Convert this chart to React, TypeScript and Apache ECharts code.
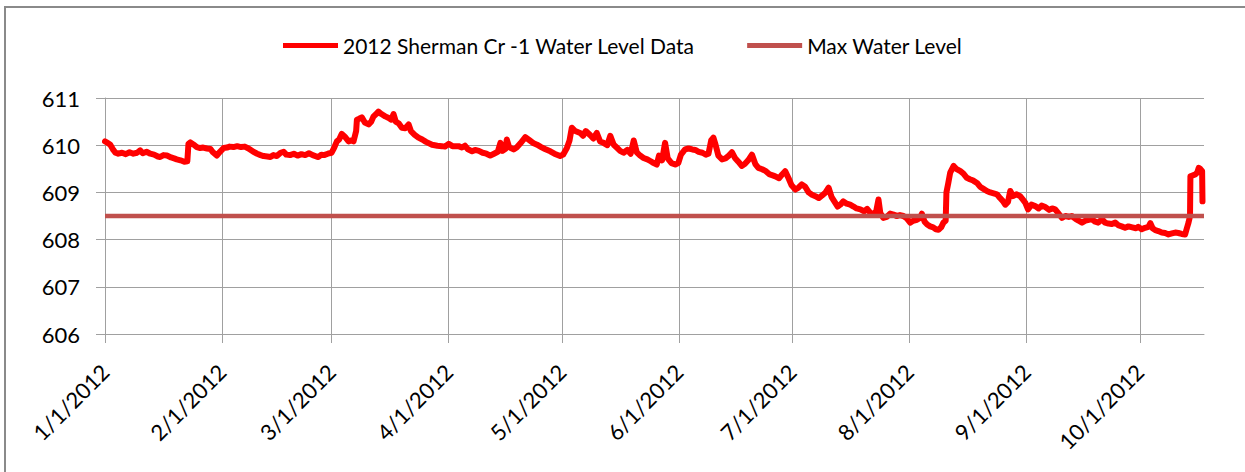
import React, { useEffect, useRef } from "react";
import * as echarts from "echarts";

// Days since 1/1/2012 for each month start shown on the x axis
const monthStartDays = [0, 31, 60, 91, 121, 152, 182, 213, 244, 274];
const tickLabels = [
  "1/1/2012", "2/1/2012", "3/1/2012", "4/1/2012", "5/1/2012",
  "6/1/2012", "7/1/2012", "8/1/2012", "9/1/2012", "10/1/2012",
];
const yTicks = [606, 607, 608, 609, 610, 611];

// Water level readings (day of year since 1/1/2012, level)
const days = [
  0, 0.7, 1.4, 2.2, 2.8, 3.5, 4.5, 5.5, 6.5, 7.5, 8.5, 9.3, 10, 11, 12, 13, 14, 14.6, 15.5, 16.4,
  17.5, 18.3, 19, 20, 21, 21.8, 22.1, 22.6, 23.5, 24.3, 25.2, 26, 27, 27.9, 28.6, 29.6, 30.3, 31.4, 32.3, 33,
  34, 35, 36, 37, 38, 39.3, 40.3, 41.2, 42, 43, 43.8, 44.6, 45.5, 46.5, 47.3, 48, 49, 50, 51, 52,
  53, 54, 55, 56, 56.5, 57.3, 58, 59, 60, 60.7, 61.4, 62, 62.7, 63.5, 64.5, 65.3, 65.8, 66.5, 66.7, 67.3,
  68, 68.8, 69.8, 70.5, 71.1, 71.8, 72.4, 73.2, 74.2, 75, 75.8, 76.4, 77, 77.8, 78.6, 79.5, 80.4, 81, 82, 83,
  84, 85, 86.6, 88, 89.2, 90, 91, 92, 93.6, 94.5, 95.3, 96, 97.2, 98, 99, 100, 101, 102, 103, 104,
  104.7, 105.2, 106, 106.4, 107, 108.2, 109, 110, 111.3, 112.5, 113.5, 114.4, 115.5, 116.5, 117.9, 119, 120.5, 121.3, 122.3, 123,
  123.6, 124.5, 125.8, 126.6, 127.3, 128.5, 129.3, 130.2, 131.1, 132, 133, 133.8, 134.7, 135.5, 136.4, 137.3, 138.3, 139.2, 140, 140.8,
  141.7, 142.6, 143.6, 144.5, 145.3, 146.1, 146.7, 147.5, 148.3, 149, 150, 151, 151.8, 152.5, 153.6, 154.5, 155.5, 156.3, 157.2, 158.2,
  159.1, 159.8, 160.5, 161.1, 161.7, 162.4, 163.4, 164.3, 165.2, 166, 166.8, 167.7, 168.6, 169.4, 170.3, 171.3, 172.2, 173, 174, 175,
  176, 176.8, 177.5, 178.5, 179.3, 180.1, 181, 181.8, 182.8, 183.6, 184.5, 185.4, 186.3, 187.2, 188.1, 189, 189.8, 190.8, 191.6, 192.4,
  193.2, 194, 194.7, 195.5, 196.4, 197.3, 198.2, 199, 200, 201, 201.8, 202.6, 203.5, 204.2, 204.8, 205.3, 206.1, 207, 207.9, 208.8,
  209.6, 210.5, 211.4, 212.3, 213.2, 214, 215, 215.8, 216.3, 217, 217.7, 218.5, 219.3, 220, 220.7, 221.4, 222, 222.6, 222.8, 223.3,
  223.8, 224.3, 224.7, 225.4, 226.5, 227.3, 228.2, 229, 229.9, 230.9, 231.7, 232.5, 233.5, 234.4, 235.3, 236.2, 237, 237.7, 238.4, 239.1,
  239.7, 240.4, 241.3, 242.3, 243, 243.7, 244.4, 245.3, 246.3, 247.2, 248, 249, 250, 250.8, 251.6, 252.5, 253.4, 254.3, 255.2, 256,
  257, 257.8, 258.7, 259.6, 260.5, 261.3, 262.2, 263, 264, 264.8, 265.7, 266.6, 267.5, 268.4, 269.2, 270.1, 271, 272, 273, 273.6,
  274.5, 275.4, 276.3, 276.8, 277.4, 278.1, 278.9, 279.8, 280.7, 281.6, 282.5, 283.4, 284.2, 285.1, 286, 286.5, 286.9, 287.3, 287.4, 288,
  288.7, 289.2, 289.6, 290, 290.5, 290.6,
];
const levels = [
  610.08, 610.05, 610.01, 609.9, 609.84, 609.82, 609.84, 609.81, 609.85, 609.82, 609.84, 609.89, 609.83, 609.86, 609.82, 609.8, 609.76, 609.75, 609.79, 609.78,
  609.74, 609.72, 609.7, 609.68, 609.65, 609.66, 610.03, 610.06, 610.01, 609.96, 609.94, 609.95, 609.93, 609.92, 609.85, 609.78, 609.85, 609.94, 609.95, 609.97,
  609.96, 609.98, 609.96, 609.97, 609.93, 609.86, 609.82, 609.79, 609.77, 609.76, 609.75, 609.79, 609.77, 609.84, 609.86, 609.8, 609.79, 609.82, 609.78, 609.81,
  609.79, 609.83, 609.79, 609.76, 609.75, 609.8, 609.79, 609.82, 609.84, 609.95, 610.08, 610.12, 610.24, 610.18, 610.08, 610.1, 610.08, 610.3, 610.54, 610.56,
  610.59, 610.48, 610.44, 610.5, 610.61, 610.66, 610.71, 610.66, 610.61, 610.58, 610.54, 610.66, 610.5, 610.46, 610.37, 610.36, 610.44, 610.3, 610.22, 610.16,
  610.12, 610.07, 610.01, 609.99, 609.98, 609.97, 610.03, 609.98, 609.98, 609.95, 609.99, 609.92, 609.87, 609.9, 609.88, 609.84, 609.82, 609.78, 609.82, 609.86,
  610.05, 609.88, 609.92, 610.12, 609.96, 609.91, 609.95, 610.04, 610.17, 610.1, 610.04, 610.01, 609.96, 609.92, 609.87, 609.82, 609.77, 609.8, 609.94, 610.1,
  610.37, 610.3, 610.26, 610.2, 610.3, 610.21, 610.14, 610.26, 610.08, 610.05, 610.0, 610.2, 610.01, 609.95, 609.88, 609.84, 609.9, 609.82, 610.1, 609.85,
  609.78, 609.73, 609.7, 609.66, 609.62, 609.59, 609.78, 609.68, 610.05, 609.72, 609.62, 609.59, 609.62, 609.8, 609.91, 609.93, 609.91, 609.9, 609.86, 609.84,
  609.8, 609.82, 610.1, 610.16, 610.0, 609.78, 609.7, 609.72, 609.78, 609.85, 609.73, 609.65, 609.56, 609.6, 609.68, 609.8, 609.6, 609.52, 609.49, 609.45,
  609.38, 609.36, 609.34, 609.3, 609.38, 609.45, 609.3, 609.15, 609.06, 609.1, 609.17, 609.12, 609.0, 608.95, 608.92, 608.88, 608.93, 609.0, 609.1, 608.9,
  608.8, 608.7, 608.74, 608.81, 608.76, 608.74, 608.7, 608.66, 608.64, 608.6, 608.65, 608.57, 608.54, 608.6, 608.85, 608.56, 608.46, 608.48, 608.55, 608.53,
  608.5, 608.52, 608.5, 608.45, 608.36, 608.4, 608.42, 608.46, 608.55, 608.38, 608.32, 608.28, 608.26, 608.22, 608.21, 608.26, 608.36, 608.4, 609.0, 609.2,
  609.42, 609.5, 609.56, 609.5, 609.45, 609.4, 609.31, 609.28, 609.25, 609.2, 609.12, 609.08, 609.03, 609.0, 608.98, 608.96, 608.88, 608.82, 608.74, 608.8,
  609.03, 608.92, 608.96, 608.92, 608.85, 608.78, 608.64, 608.74, 608.71, 608.66, 608.72, 608.69, 608.63, 608.66, 608.64, 608.55, 608.46, 608.5, 608.48, 608.5,
  608.44, 608.4, 608.36, 608.4, 608.42, 608.43, 608.38, 608.36, 608.43, 608.36, 608.34, 608.33, 608.36, 608.3, 608.28, 608.25, 608.28, 608.26, 608.24, 608.27,
  608.22, 608.25, 608.27, 608.35, 608.24, 608.2, 608.18, 608.15, 608.14, 608.11, 608.13, 608.15, 608.14, 608.12, 608.11, 608.25, 608.36, 608.5, 609.34, 609.36,
  609.38, 609.42, 609.52, 609.5, 609.45, 608.81,
];

const maxLevel = 608.5;
const axisStart = 0;
const axisEnd = 291;

const FONT = "Lato";

export default function App() {
  const ref = useRef<HTMLDivElement>(null);

  useEffect(() => {
    if (!ref.current) return;
    const chart = echarts.init(ref.current, undefined, { renderer: "svg" });
    const waterData = days.map((d, i) => [d, levels[i]]);
    const maxData = [
      [axisStart, maxLevel],
      [axisEnd, maxLevel],
    ];
    chart.setOption({
      animation: false,
      backgroundColor: "#ffffff",
      graphic: [
        {
          type: "rect",
          shape: { x: 5, y: 7, width: 1300, height: 600 },
          style: { fill: "none", stroke: "#8a8a8a", lineWidth: 2 },
          silent: true,
        },
      ],
      legend: {
        left: 278,
        top: 30,
        itemWidth: 55,
        itemHeight: 5,
        itemGap: 52,
        icon: "rect",
        textStyle: { fontFamily: FONT, fontSize: 21, color: "#000" },
        data: ["2012 Sherman Cr -1 Water Level Data", "Max Water Level"],
      },
      grid: { left: 105, top: 98, width: 1099, height: 236, containLabel: false },
      xAxis: {
        type: "value",
        min: axisStart,
        max: axisEnd,
        axisLine: { show: true, lineStyle: { color: "#a0a0a0", width: 1 } },
        axisTick: {
          show: true,
          customValues: monthStartDays,
          length: 9,
          lineStyle: { color: "#a0a0a0", width: 1 },
        },
        splitLine: { show: true, lineStyle: { color: "#a0a0a0", width: 1 } },
        axisLabel: {
          customValues: monthStartDays,
          formatter: (v: number) => {
            const idx = monthStartDays.indexOf(Math.round(v));
            return idx >= 0 ? tickLabels[idx] : "";
          },
          rotate: 45,
          margin: 34,
          fontFamily: FONT,
          fontSize: 22,
          color: "#000",
        },
      },
      yAxis: {
        type: "value",
        min: yTicks[0],
        max: yTicks[yTicks.length - 1],
        interval: 1,
        axisLine: { show: true, lineStyle: { color: "#a0a0a0", width: 1 } },
        axisTick: { show: true, length: 9, lineStyle: { color: "#a0a0a0", width: 1 } },
        splitLine: { show: true, lineStyle: { color: "#a0a0a0", width: 1 } },
        axisLabel: { margin: 25, fontFamily: FONT, fontSize: 22, color: "#000" },
      },
      series: [
        {
          name: "2012 Sherman Cr -1 Water Level Data",
          type: "line",
          data: waterData,
          showSymbol: false,
          symbol: "none",
          color: "#ff0000",
          lineStyle: { color: "#ff0000", width: 6, join: "round", cap: "round" },
          z: 3,
        },
        {
          name: "Max Water Level",
          type: "line",
          data: maxData,
          showSymbol: false,
          symbol: "none",
          color: "#c0504d",
          lineStyle: { color: "#c0504d", width: 4.5 },
          z: 4,
        },
      ],
    });
    return () => chart.dispose();
  }, []);

  return (
    <div
      ref={ref}
      style={{ position: "fixed", left: 0, top: 0, width: 1245, height: 472 }}
    />
  );
}
